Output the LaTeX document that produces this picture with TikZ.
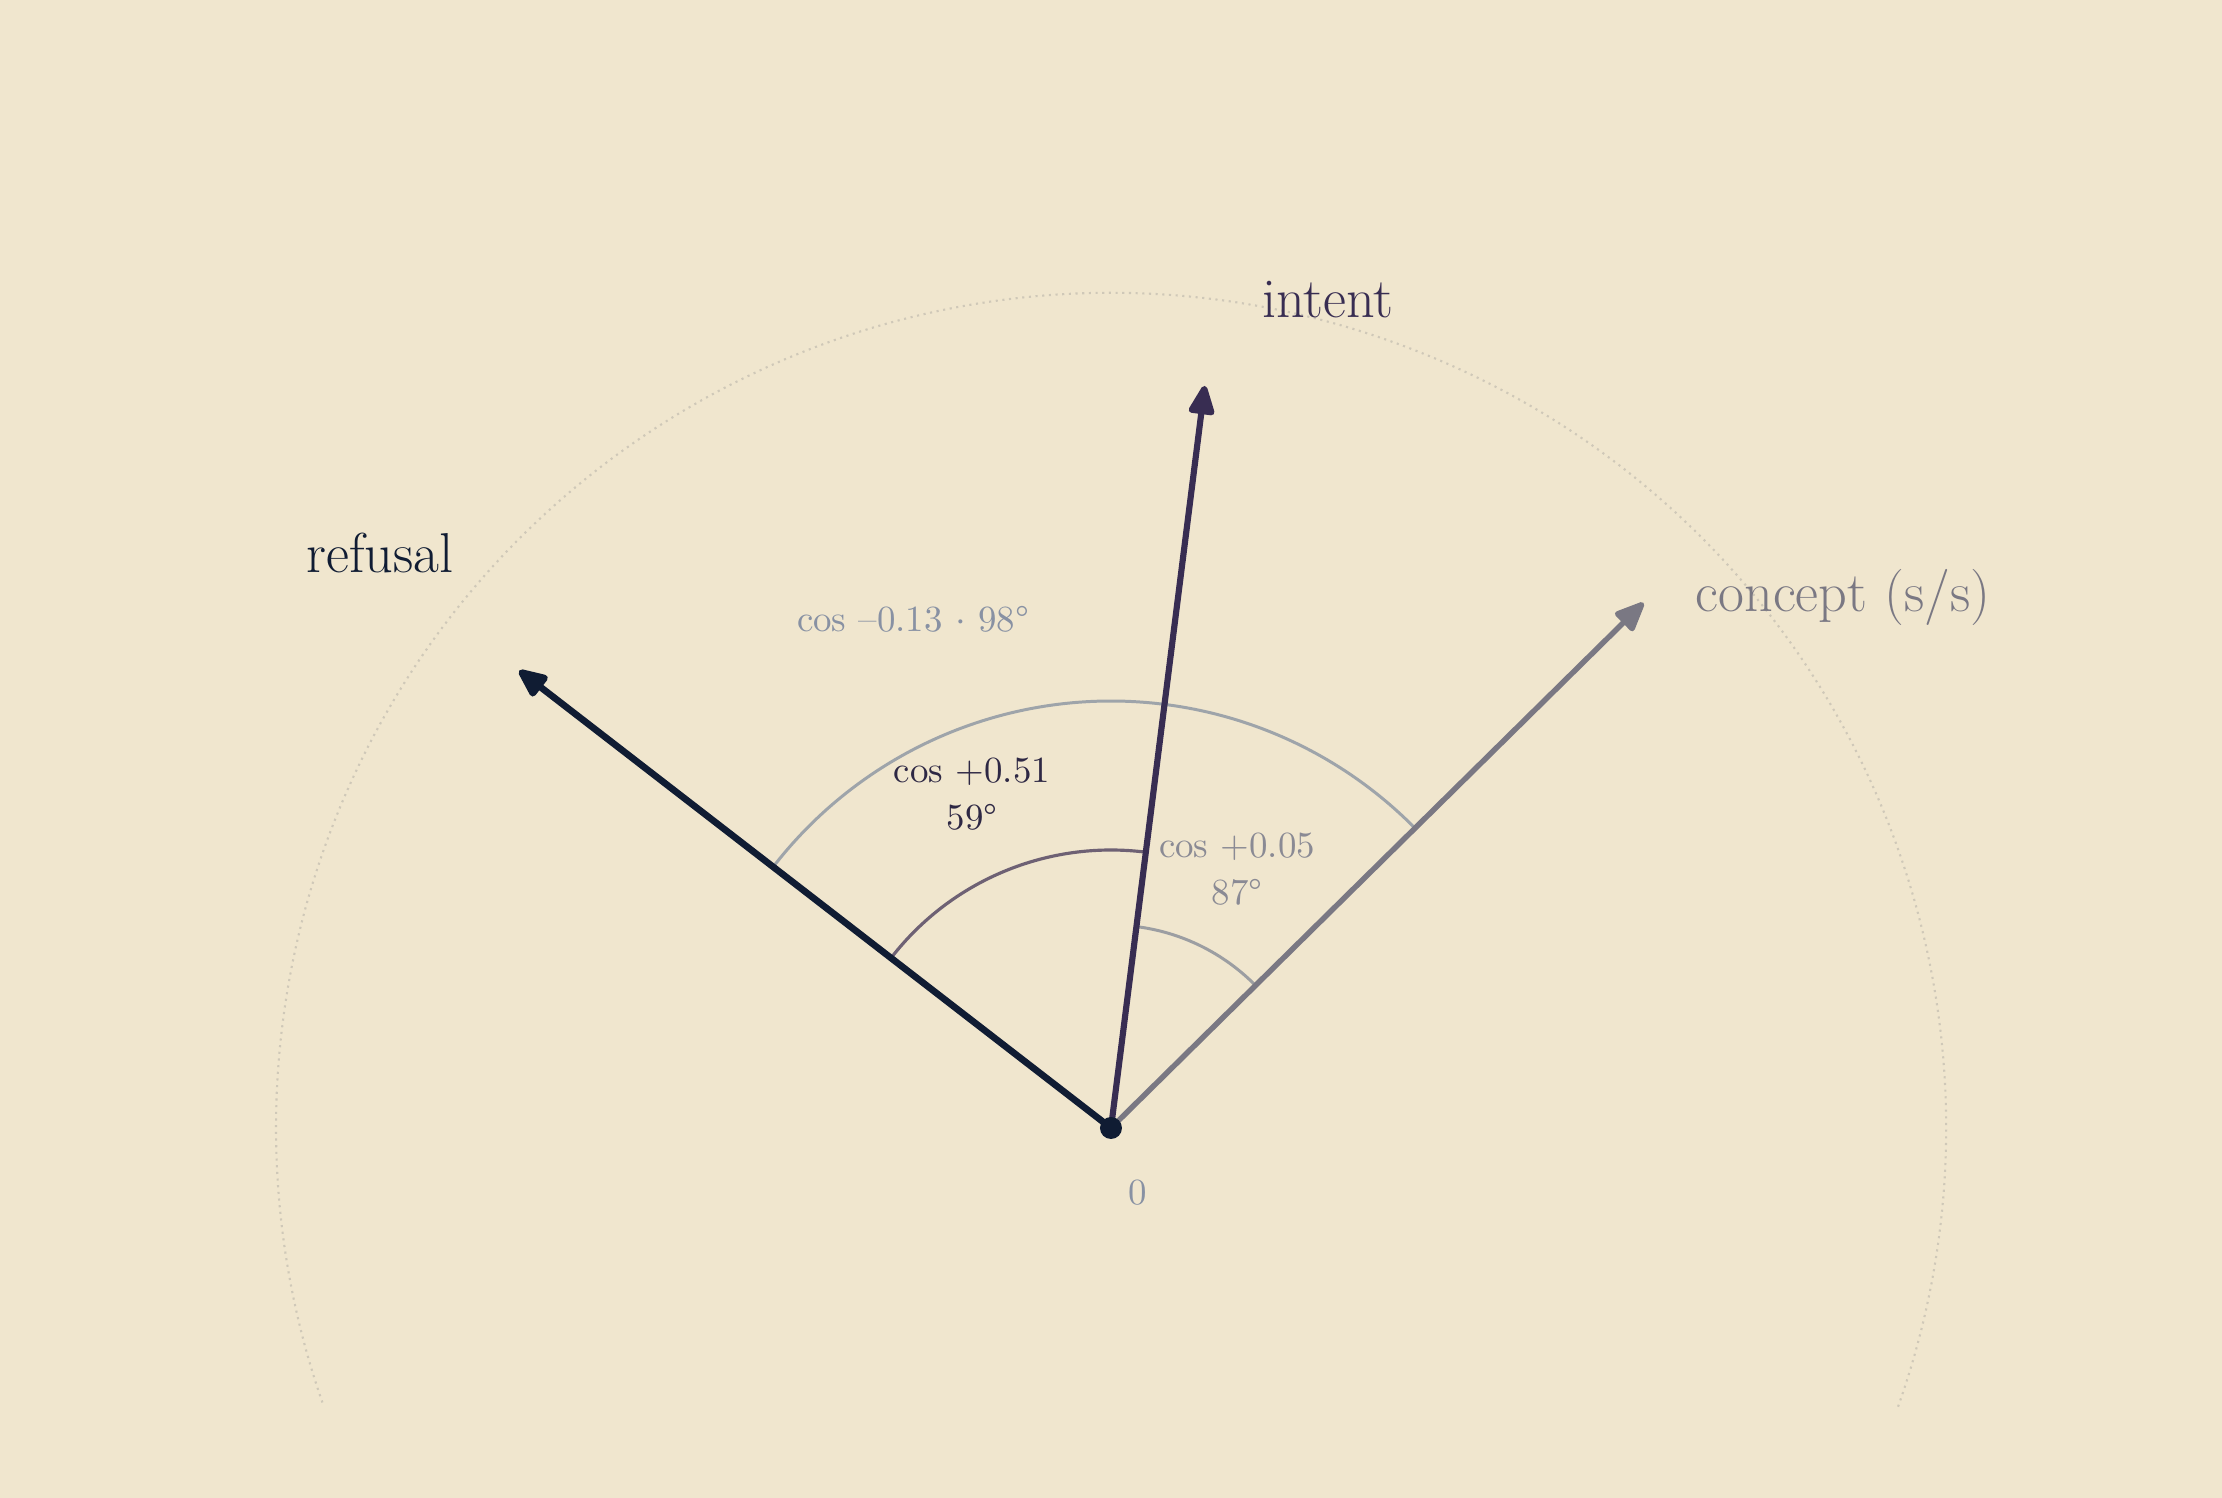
\documentclass[tikz,border=0pt]{standalone}
\usepackage{tikz}
\usetikzlibrary{arrows.meta,calc}
\definecolor{paper}{HTML}{F0E6CE}
\definecolor{refusalcol}{HTML}{101C33}
\definecolor{intentcol}{HTML}{382D52}
\definecolor{conceptcol}{HTML}{7A7883}
\definecolor{rimcol}{HTML}{CFC8B8}
\definecolor{widearc}{HTML}{9EA4AA}
\definecolor{midarc}{HTML}{6E6174}
\definecolor{smallarc}{HTML}{9C9EA2}
\definecolor{labgrey}{HTML}{8891A3}
\definecolor{labmid}{HTML}{2E2844}
\definecolor{labsmall}{HTML}{8A8A94}
\newcommand{\anglearc}[4][]{\draw[#1] ([shift={(#2:#4)}]origin) arc (#2:#3:#4);}
\tikzset{
  vec/.style={line width=1.75pt, line cap=round, -{Triangle[length=9.5pt,width=7.8pt,round]}},
  biglab/.style={font=\fontsize{16}{19}\selectfont},
  anglab/.style={font=\fontsize{10.5}{13.4}\selectfont, align=center}
}

\begin{document}
\begin{tikzpicture}
			%%%%% START %%%%%
			
			\fill[paper] (-11.11, -3.70) rectangle (11.11, 11.28);
			\useasboundingbox (-11.11, -3.70) rectangle (11.11, 11.28);
			
			\coordinate (origin) at (0, 0);
			\coordinate (refusaltip) at (142.3:7.48);
			\coordinate (intenttip) at (82.8:7.48);
			\coordinate (concepttip) at (44.6:7.48);
			
			\draw[rimcol, line width=0.6pt, dash pattern=on 0.6pt off 1.3pt] ([shift={(-19.5:8.35)}]origin) arc (-19.5:199.5:8.35);
			
			\anglearc[widearc, line width=0.85pt]{44.6}{142.3}{4.27}
			\anglearc[midarc, line width=0.9pt]{82.8}{142.3}{2.78}
			\anglearc[smallarc, line width=0.85pt]{44.6}{82.8}{2.03}
			
			\draw[vec, conceptcol, line width=1.55pt] (origin) -- (concepttip);
			\draw[vec, intentcol] (origin) -- (intenttip);
			\draw[vec, refusalcol, line width=1.9pt] (origin) -- (refusaltip);
			\fill[refusalcol] (origin) circle (0.11);
			
			\node[biglab, text=refusalcol] (refusal) at (-7.31, 5.75) {refusal};
			\node[biglab, text=intentcol] (intent) at (2.17, 8.28) {intent};
			\node[biglab, text=conceptcol] (concept) at (7.32, 5.31) {concept (s/s)};
			
			\node[anglab, text=labgrey] (widecos) at (-1.98, 5.09) {cos –0.13 $\cdot$ 98°};
			\node[anglab, text=labmid] (midcos) at (-1.39, 3.335) {cos +0.51\\59°};
			\node[anglab, text=labsmall] (smallcos) at (1.26, 2.585) {cos +0.05\\87°};
			\node[anglab, text=labgrey] (zero) at (0.27, -0.65) {0};
			
			%%%%% END %%%%%
		\end{tikzpicture}
\end{document}
